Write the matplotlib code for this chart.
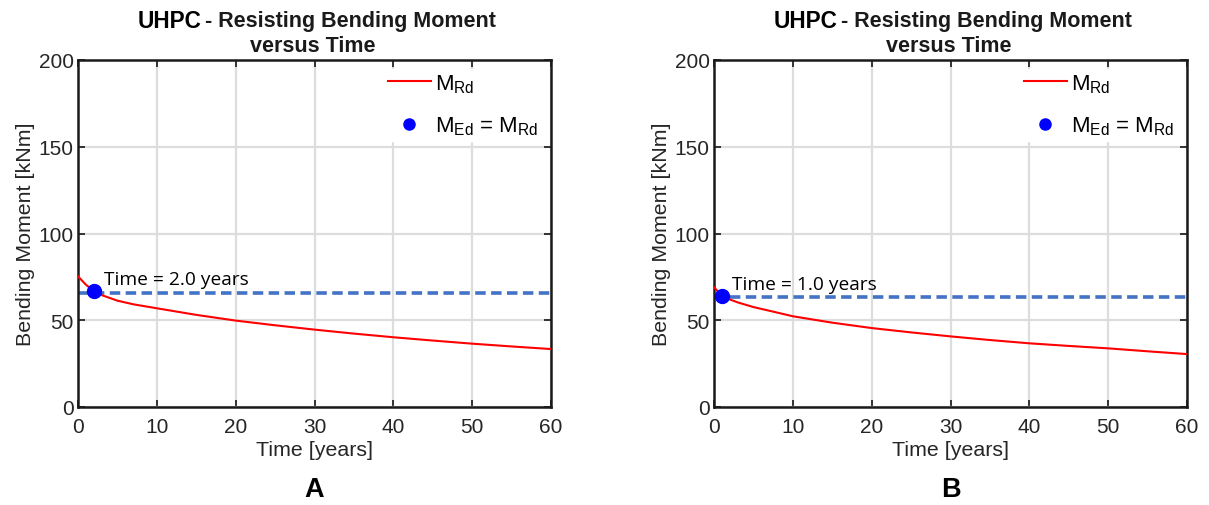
import numpy as np
import matplotlib.pyplot as plt

plt.rcParams['font.family'] = ['Liberation Sans', 'DejaVu Sans']
plt.rcParams['mathtext.default'] = 'regular'

# data
years = [0, 1, 2, 3, 5, 7, 10, 15, 20, 25, 30, 35, 40, 45, 50, 55, 60]
mrd_a = [75.3, 70.5, 66.8, 64.5, 61.3, 59.2, 56.9, 53.1, 49.8, 47.1, 44.6, 42.3, 40.2, 38.3, 36.5, 34.9, 33.4]
mrd_b = [69.0, 64.2, 62.0, 60.3, 57.6, 55.5, 52.3, 48.6, 45.5, 43.0, 40.7, 38.6, 36.7, 35.2, 33.8, 32.1, 30.5]
med_a = 65.7
med_b = 63.6
hit_a = (2.0, 66.7)
hit_b = (1.0, 63.8)
panels = ['A', 'B']
xticks = [0, 10, 20, 30, 40, 50, 60]
yticks = [0, 50, 100, 150, 200]

W, H = 1209, 506
fig = plt.figure(figsize=(W / 100, H / 100), dpi=100)
lefts = [78, 714]
w = 473

for i, (mrd, med, hit) in enumerate([(mrd_a, med_a, hit_a), (mrd_b, med_b, hit_b)]):
    ax = fig.add_axes([lefts[i] / W, 1 - 408 / H, w / W, 347 / H])
    ax.plot(years, mrd, color='red', lw=1.5, label='M$_{Rd}$', zorder=3)
    ax.axhline(med, color='#4472C4', lw=2.6, ls=(0, (2.9, 1.5)), zorder=2)
    ax.plot([hit[0]], [hit[1]], 'o', color='blue', ms=10, zorder=4,
            label='M$_{Ed}$ = M$_{Rd}$')
    ax.text(hit[0] + 1.3, hit[1] + 4.2, 'Time = %.1f years' % hit[0],
            fontsize=13.8, family=['Open Sans', 'DejaVu Sans'], va='baseline', zorder=5)
    ax.set_xlim(0, 60)
    ax.set_ylim(0, 200)
    ax.set_xticks(xticks)
    ax.set_yticks(yticks)
    ax.grid(True, color='#dddddd', lw=1.6)
    ax.set_axisbelow(True)
    ax.tick_params(direction='in', top=True, right=True, length=5, width=1.3,
                   labelsize=15, colors='#262626')
    ax.tick_params(axis='x', pad=7)
    ax.tick_params(axis='y', pad=3)
    for s in ax.spines.values():
        s.set_linewidth(1.8)
        s.set_color('#1a1a1a')
    ax.set_xlabel('Time [years]', fontsize=15.4, color='#262626', labelpad=3)
    ax.set_ylabel('Bending Moment [kNm]', fontsize=15.4, color='#262626', labelpad=3)
    leg = ax.legend(loc='upper right', fontsize=16, frameon=True, fancybox=False,
                    handlelength=1.95, borderaxespad=0.4, borderpad=0.15,
                    labelspacing=0.9, handletextpad=0.2, markerscale=0.8)
    leg.get_frame().set_edgecolor('white')
    leg.get_frame().set_facecolor('white')
    leg.get_frame().set_alpha(1)

    cx = lefts[i] + w / 2
    fig.text((cx - 176.5) / W, 1 - 22 / H, 'UHPC', fontsize=16.3, fontweight='bold',
             ha='left', va='center', color='black')
    fig.text((cx - 109.5) / W, 1 - 22 / H, '- Resisting Bending Moment', fontsize=15.5,
             fontweight='bold', ha='left', va='center', color='#1a1a1a')
    fig.text((cx - 2) / W, 1 - 47 / H, 'versus Time', fontsize=15.5, fontweight='bold',
             ha='center', va='center', color='#1a1a1a')
    fig.text(cx / W, 1 - 490 / H, panels[i], fontsize=19.5, fontweight='bold',
             ha='center', va='center', color='black')

fig.savefig('out.png', dpi=100, facecolor='white')
